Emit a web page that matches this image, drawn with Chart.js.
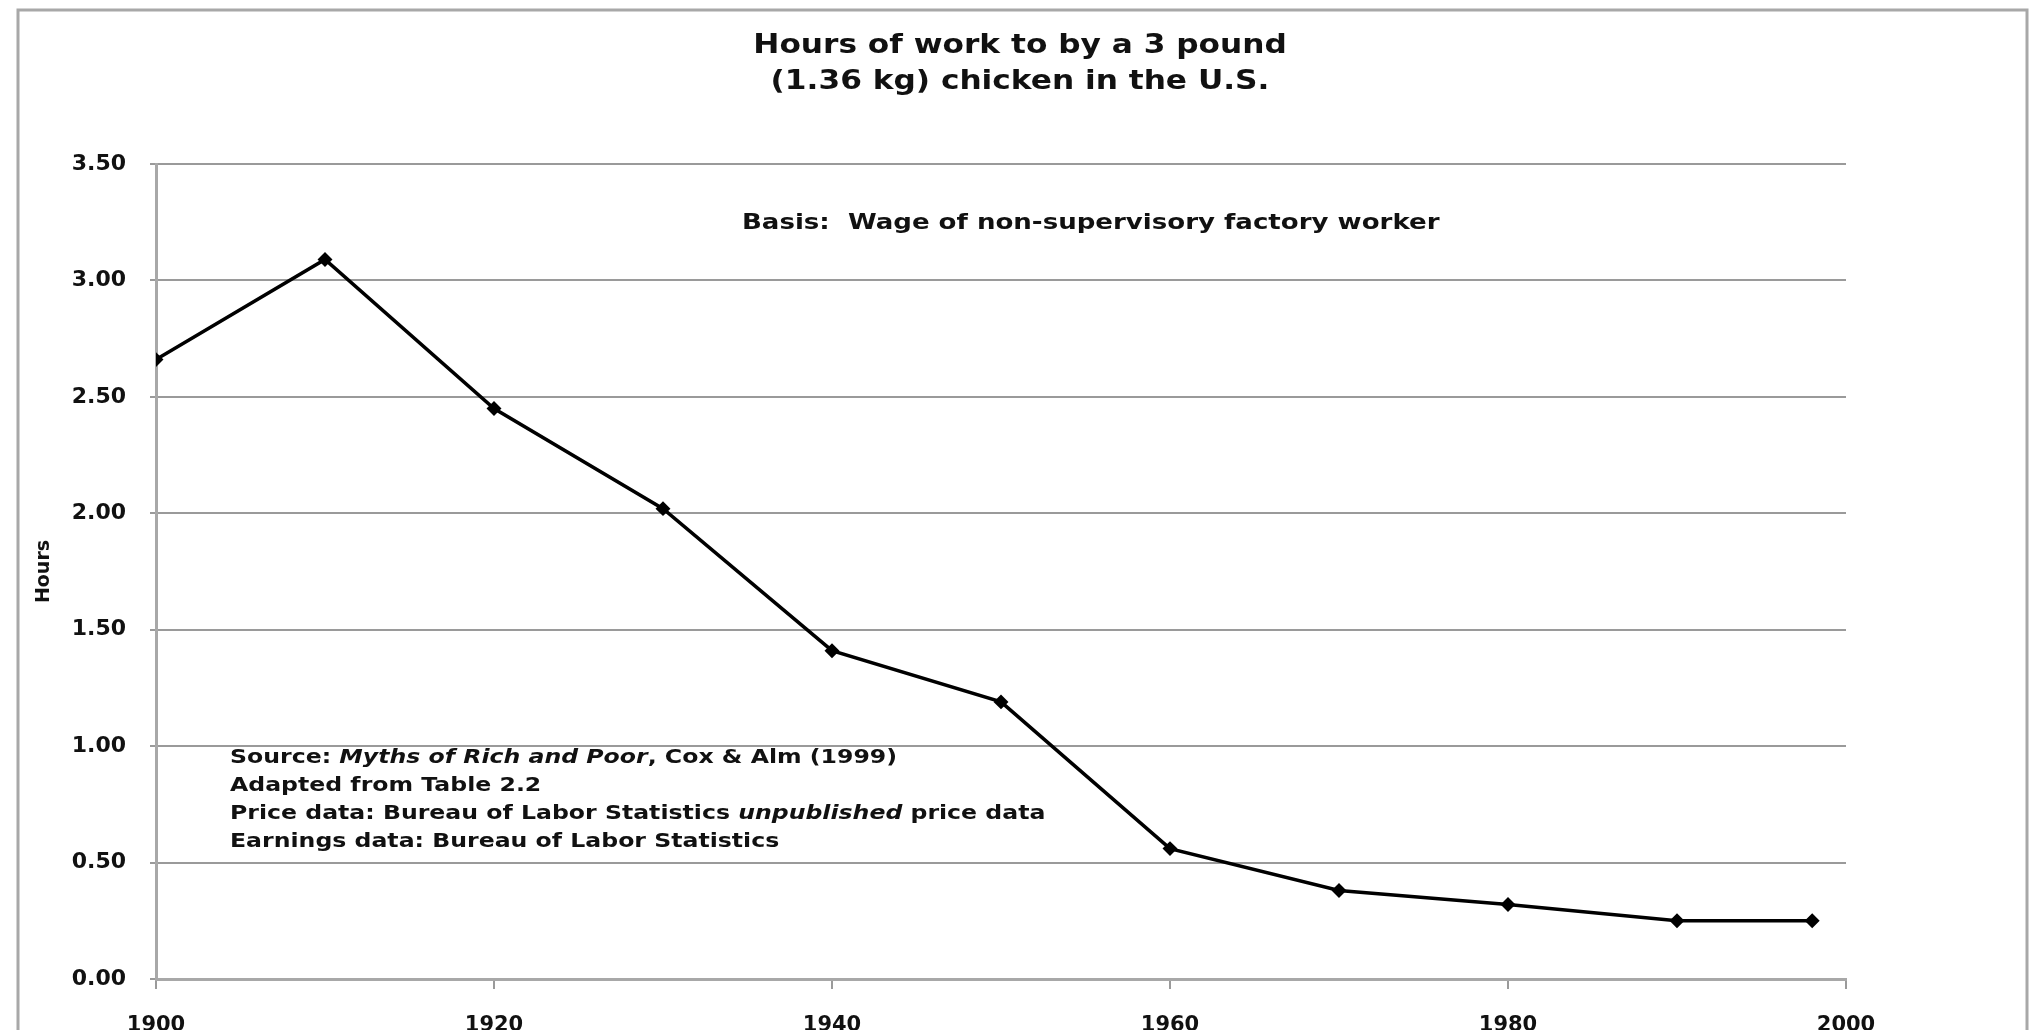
<!DOCTYPE html>
<html>
<head>
<meta charset="utf-8">
<script src="https://cdn.jsdelivr.net/npm/chart.js@4"></script>
<style>
  html, body { margin: 0; padding: 0; background: #fff; }
  #wrap { width: 2041px; height: 1030px; }
</style>
</head>
<body>
<div id="wrap"><canvas id="myChart" width="2041" height="1030"></canvas></div>
<script>
// DATA
const years = [1900, 1910, 1920, 1930, 1940, 1950, 1960, 1970, 1980, 1990, 1998];
const hours = [2.66, 3.09, 2.45, 2.02, 1.41, 1.19, 0.56, 0.38, 0.32, 0.25, 0.25];
const titleLines = ['Hours of work to by a 3 pound', '(1.36 kg) chicken in the U.S.'];
const basisText = 'Basis:  Wage of non-supervisory factory worker';
const yTitle = 'Hours';

const FONT = '"DejaVu Sans", sans-serif';
const gridGray = '#9a9a9a';

// texte etire horizontalement (le scan d'origine est plus large)
function drawText(ctx, text, x, y, sx, align) {
    ctx.save();
    ctx.translate(x, y);
    ctx.scale(sx, 1);
    ctx.textAlign = align;
    ctx.fillText(text, 0, 0);
    const w = ctx.measureText(text).width * sx;
    ctx.restore();
    return w;
}

// texte : titre, annotations, cadre
const textPlugin = {
    id: 'texts',
    beforeDraw(chart) {
        const ctx = chart.ctx;
        ctx.save();
        ctx.fillStyle = '#fff';
        ctx.fillRect(0, 0, chart.width, chart.height);
        ctx.strokeStyle = '#a8a8a8';
        ctx.lineWidth = 3;
        ctx.strokeRect(18, 10, 2009, 1040);
        ctx.restore();
    },
    afterDraw(chart) {
        const ctx = chart.ctx;
        const area = chart.chartArea;
        ctx.save();
        ctx.fillStyle = '#111';
        ctx.textBaseline = 'middle';

        // Titre
        ctx.font = 'bold 26px ' + FONT;
        drawText(ctx, titleLines[0], 1020, 46, 1.2, 'center');
        drawText(ctx, titleLines[1], 1020, 82, 1.2, 'center');

        // Basis
        ctx.font = 'bold 21px ' + FONT;
        drawText(ctx, basisText, area.left + 586, area.top + 60, 1.24, 'left');

        // Source
        const lines = [
            [['Source: ', false], ['Myths of Rich and Poor', true], [', Cox & Alm (1999)', false]],
            [['Adapted from Table 2.2', false]],
            [['Price data: Bureau of Labor Statistics ', false], ['unpublished', true], [' price data', false]],
            [['Earnings data: Bureau of Labor Statistics', false]]
        ];
        lines.forEach(function (parts, i) {
            let x = area.left + 74;
            const y = area.top + 594 + i * 28;
            parts.forEach(function (p) {
                ctx.font = (p[1] ? 'italic ' : '') + 'bold 20px ' + FONT;
                x += drawText(ctx, p[0], x, y, 1.18, 'left');
            });
        });
        ctx.restore();
    }
};

const data = {
    datasets: [{
        label: 'Hours',
        data: years.map(function (y, i) { return { x: y, y: hours[i] }; }),
        borderColor: '#000',
        backgroundColor: '#000',
        borderWidth: 3.5,
        pointStyle: 'rectRot',
        pointRadius: 5,
        pointHoverRadius: 5,
        tension: 0
    }]
};

const config = {
    type: 'line',
    data: data,
    options: {
        responsive: false,
        animation: false,
        layout: { padding: { left: 29, right: 195, top: 164, bottom: 0 } },
        plugins: {
            legend: { display: false },
            tooltip: { enabled: false },
            title: { display: false }
        },
        scales: {
            x: {
                type: 'linear',
                min: 1900,
                max: 2000,
                ticks: {
                    stepSize: 20,
                    color: '#111',
                    padding: 24,
                    font: { family: FONT, size: 21, weight: 'bold' },
                    callback: function (v) { return String(v); }
                },
                grid: { drawOnChartArea: false, drawTicks: true, tickLength: 10, color: gridGray, lineWidth: 2 },
                border: { color: '#a8a8a8', width: 3 },
                afterFit: function (s) { s.height = 51; s.paddingLeft = 0; s.paddingRight = 0; }
            },
            y: {
                min: 0,
                max: 3.5,
                ticks: {
                    stepSize: 0.5,
                    color: '#111',
                    padding: 24,
                    font: { family: FONT, size: 22, weight: 'bold' },
                    callback: function (v) { return Number(v).toFixed(2); }
                },
                grid: { color: gridGray, lineWidth: 2, tickLength: 6 },
                border: { color: '#a8a8a8', width: 3 },
                title: {
                    display: true,
                    text: yTitle,
                    color: '#111',
                    font: { family: FONT, size: 19, weight: 'bold' }
                },
                afterFit: function (s) { s.width = 127; s.paddingTop = 0; s.paddingBottom = 0; }
            }
        }
    },
    plugins: [textPlugin]
};

const myChart = new Chart(document.getElementById('myChart'), config);
</script>
</body>
</html>
